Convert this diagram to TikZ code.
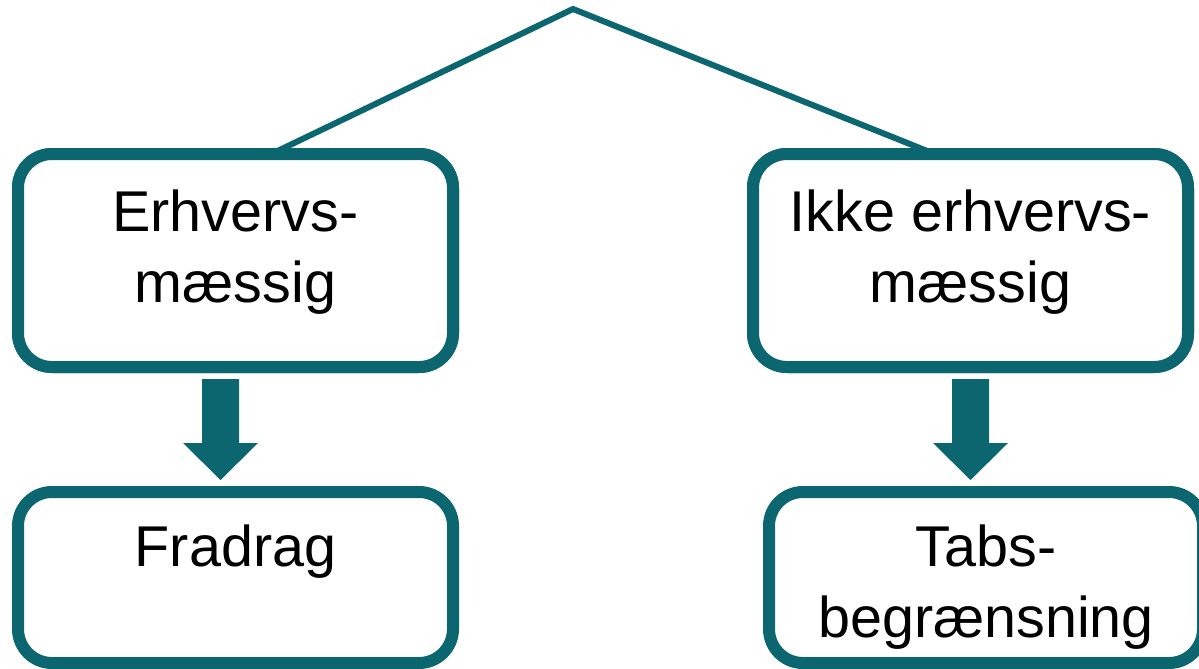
\documentclass[tikz,border=0pt]{standalone}
\usepackage{fontspec}
\setmainfont{Liberation Sans}
\usetikzlibrary{calc}
\definecolor{tealdark}{RGB}{11,102,112}
\tikzset{
  box/.style={draw=tealdark, line width=12pt, rounded corners=34pt, fill=white,
              inner sep=0pt, minimum width=435pt},
  tallbox/.style={box, minimum height=213pt},
  lowbox/.style={box, minimum height=171pt},
  lbl/.style={anchor=north, inner sep=0pt, align=center, text=black,
              font=\fontsize{57.5}{71}\selectfont},
  branch/.style={draw=tealdark, line width=6pt},
  blockarrow/.style={fill=tealdark, draw=none}
}
\newcommand{\downarrowshape}[1]{%
  \fill[blockarrow] ($(#1)+(-18.5,0)$) -- ++(37,0) -- ++(0,64) -- ++(19,0)
    -- ($(#1)+(0,101)$) -- ++(-37.5,-37) -- ++(19,0) -- cycle;}
\begin{document}
\begin{tikzpicture}[x=1pt, y=-1pt]
  \useasboundingbox (0,0) rectangle (1199,669);

  % branch lines from the apex down to the two upper boxes
  \coordinate (apex) at (573,9);
  \node[tallbox] (b1) at (235.5,260.5) {};
  \node[tallbox] (b2) at (970.5,260.5) {};
  \draw[branch, line cap=round] ($(b1.north west)!0.58!(b1.north east)+(0,6)$) -- (apex)
        -- ($(b2.north west)!0.42!(b2.north east)+(0,6)$);
  % redraw upper boxes over the line ends
  \node[tallbox] at (b1) {};
  \node[tallbox] at (b2) {};

  % lower boxes
  \node[lowbox] (b3) at (235.5,577.5) {};
  \node[lowbox, minimum width=434pt] (b4) at (986,577.5) {};

  % labels
  \node[lbl] (t1) at (235.5,190) {Erhvervs-\\mæssig};
  \node[lbl] (t2) at (970.5,190) {Ikke erhvervs-\\mæssig};
  \node[lbl] (t3) at (235.5,525) {Fradrag};
  \node[lbl] (t4) at (986,525) {Tabs-\\begrænsning};

  % block arrows between upper and lower boxes
  \coordinate (a1) at (220.5,379);
  \coordinate (a2) at (970.5,379);
  \downarrowshape{a1}
  \downarrowshape{a2}
\end{tikzpicture}
\end{document}
